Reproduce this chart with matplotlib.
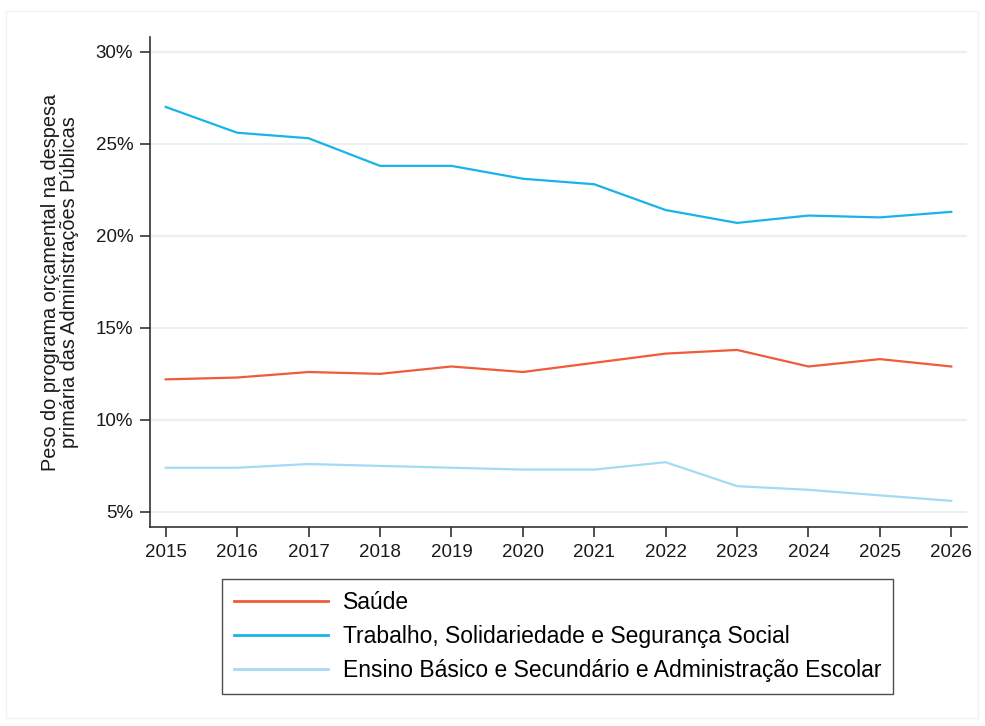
import matplotlib.pyplot as plt
from matplotlib.ticker import FuncFormatter

plt.rcParams['font.family'] = ['Liberation Sans', 'DejaVu Sans']

# Dados (% da despesa primária)
anos = [2015, 2016, 2017, 2018, 2019, 2020, 2021, 2022, 2023, 2024, 2025, 2026]
saude = [12.2, 12.3, 12.6, 12.5, 12.9, 12.6, 13.1, 13.6, 13.8, 12.9, 13.3, 12.9]
trabalho = [27.0, 25.6, 25.3, 23.8, 23.8, 23.1, 22.8, 21.4, 20.7, 21.1, 21.0, 21.3]
ensino = [7.4, 7.4, 7.6, 7.5, 7.4, 7.3, 7.3, 7.7, 6.4, 6.2, 5.9, 5.6]

nomes = ['Saúde',
         'Trabalho, Solidariedade e Segurança Social',
         'Ensino Básico e Secundário e Administração Escolar']
cores = ['#ef5b3b', '#1ab2ea', '#a3dbf5']
yticks = [5, 10, 15, 20, 25, 30]

fig = plt.figure(figsize=(9.85, 7.26), dpi=100)
fig.patch.set_facecolor('white')

# moldura ténue à volta do gráfico
fig.patches.append(plt.Rectangle((6 / 985, 8 / 726), 972 / 985, 707 / 726,
                                 transform=fig.transFigure, fill=False,
                                 edgecolor='#f0f2f4', linewidth=1))

ax = fig.add_axes([150 / 985, 1 - 527 / 726, 817 / 985, 490 / 726])

for serie, nome, cor in zip([saude, trabalho, ensino], nomes, cores):
    ax.plot(anos, serie, color=cor, linewidth=1.6, label=nome)

ax.set_xlim(2014.78, 2026.22)
ax.set_ylim(4.18, 30.8)
ax.set_xticks(anos)
ax.set_yticks(yticks)
ax.yaxis.set_major_formatter(FuncFormatter(lambda v, p: f'{v:.0f}%'))
ax.grid(True, axis='y', color='#e9f0f4', linewidth=1.5)
ax.set_axisbelow(True)

for s in ['top', 'right']:
    ax.spines[s].set_visible(False)
for s in ['left', 'bottom']:
    ax.spines[s].set_color('#333333')
    ax.spines[s].set_linewidth(1.2)

ax.tick_params(axis='both', direction='out', length=7, width=1.2,
               color='#333333', labelsize=13.5, labelcolor='#1a1a1a', pad=5)

ax.set_ylabel('Peso do programa orçamental na despesa\nprimária das Administrações Públicas',
              fontsize=14.3, color='#1a1a1a', linespacing=0.98, labelpad=12)

leg = fig.legend(loc='center', bbox_to_anchor=(557.5 / 985, 1 - 636.5 / 726),
                 fontsize=16.5, frameon=True, fancybox=False, handlelength=4.1,
                 handletextpad=0.65, borderpad=0.5, labelspacing=0.5)
leg.get_frame().set_edgecolor('#222222')
leg.get_frame().set_linewidth(1.0)
for ln in leg.get_lines():
    ln.set_linewidth(2.0)

plt.savefig('out.png', dpi=100, facecolor='white')
